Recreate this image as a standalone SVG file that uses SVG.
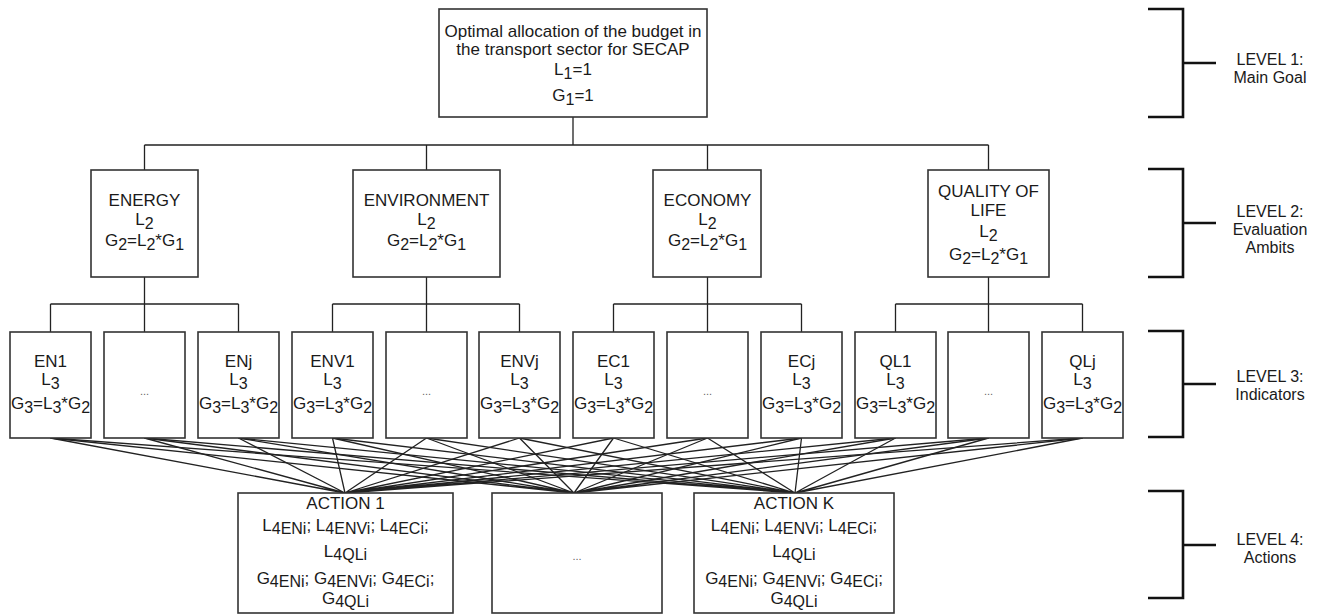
<svg xmlns="http://www.w3.org/2000/svg" width="1325" height="615" viewBox="0 0 1325 615">
<style>
.box{fill:#fff;stroke:#333;stroke-width:1.6}
.ln{stroke:#222;stroke-width:1.3;fill:none}
.br{stroke:#111;stroke-width:2.6;fill:none}
text{font-family:"Liberation Sans",Arial,sans-serif;font-size:17px;fill:#1a1a1a;text-anchor:middle}
.s{font-size:16px}
.dots{font-size:11px;fill:#666}
.lv{font-size:16px}
</style>
<rect width="1325" height="615" fill="#fff"/>
<g id="connectors">
<path class="ln" d="M573 117V145M144.5 145H988.5M144.5 145V170M426.5 145V170M707.5 145V170M988.5 145V170"/>
<path class="ln" d="M144.5 277V304M50.5 304H238.5M50.5 304V332M144.5 304V332M238.5 304V332"/>
<path class="ln" d="M426.5 277V304M332.5 304H519.5M332.5 304V332M426.5 304V332M519.5 304V332"/>
<path class="ln" d="M707.5 277V304M613.5 304H801.5M613.5 304V332M707.5 304V332M801.5 304V332"/>
<path class="ln" d="M988.5 277V304M895.5 304H1082.5M895.5 304V332M988.5 304V332M1082.5 304V332"/>
<path class="ln" d="M50.5 438L345 493M144.5 438L345 493M238.5 438L345 493M332.5 438L345 493M426.5 438L345 493M519.5 438L345 493M613.5 438L345 493M707.5 438L345 493M801.5 438L345 493M895.5 438L345 493M988.5 438L345 493M1082.5 438L345 493"/>
<path class="ln" d="M50.5 438L574 493M144.5 438L574 493M238.5 438L574 493M332.5 438L574 493M426.5 438L574 493M519.5 438L574 493M613.5 438L574 493M707.5 438L574 493M801.5 438L574 493M895.5 438L574 493M988.5 438L574 493M1082.5 438L574 493"/>
<path class="ln" d="M50.5 438L795 493M144.5 438L795 493M238.5 438L795 493M332.5 438L795 493M426.5 438L795 493M519.5 438L795 493M613.5 438L795 493M707.5 438L795 493M801.5 438L795 493M895.5 438L795 493M988.5 438L795 493M1082.5 438L795 493"/>
</g>
<g id="goal">
<rect class="box" x="439" y="9" width="268" height="108"/>
<text x="573" y="37">Optimal allocation of the budget in</text>
<text x="573" y="55">the transport sector for SECAP</text>
<text x="573" y="75">L<tspan class="s" dy="4">1</tspan><tspan dy="-4">=1</tspan></text>
<text x="573" y="101">G<tspan class="s" dy="4">1</tspan><tspan dy="-4">=1</tspan></text>
</g>
<g id="energy">
<rect class="box" x="91" y="170" width="107" height="107"/>
<text x="144.5" y="206">ENERGY</text>
<text x="144.5" y="225">L<tspan class="s" dy="4">2</tspan></text>
<text x="144.5" y="246">G<tspan class="s" dy="4">2</tspan><tspan dy="-4">=L</tspan><tspan class="s" dy="4">2</tspan><tspan dy="-4">*G</tspan><tspan class="s" dy="4">1</tspan></text>
</g>
<g id="environment">
<rect class="box" x="353" y="170" width="147" height="107"/>
<text x="426.5" y="206">ENVIRONMENT</text>
<text x="426.5" y="225">L<tspan class="s" dy="4">2</tspan></text>
<text x="426.5" y="246">G<tspan class="s" dy="4">2</tspan><tspan dy="-4">=L</tspan><tspan class="s" dy="4">2</tspan><tspan dy="-4">*G</tspan><tspan class="s" dy="4">1</tspan></text>
</g>
<g id="economy">
<rect class="box" x="653" y="170" width="108" height="107"/>
<text x="707.5" y="206">ECONOMY</text>
<text x="707.5" y="225">L<tspan class="s" dy="4">2</tspan></text>
<text x="707.5" y="246">G<tspan class="s" dy="4">2</tspan><tspan dy="-4">=L</tspan><tspan class="s" dy="4">2</tspan><tspan dy="-4">*G</tspan><tspan class="s" dy="4">1</tspan></text>
</g>
<g id="quality">
<rect class="box" x="928" y="170" width="121" height="107"/>
<text x="988.5" y="197">QUALITY OF</text>
<text x="988.5" y="216">LIFE</text>
<text x="988.5" y="237">L<tspan class="s" dy="4">2</tspan></text>
<text x="988.5" y="260">G<tspan class="s" dy="4">2</tspan><tspan dy="-4">=L</tspan><tspan class="s" dy="4">2</tspan><tspan dy="-4">*G</tspan><tspan class="s" dy="4">1</tspan></text>
</g>
<g id="en1"><rect class="box" x="10" y="332" width="81" height="106"/><text x="50.5" y="367">EN1</text><text x="50.5" y="385">L<tspan class="s" dy="4">3</tspan></text><text x="50.5" y="409">G<tspan class="s" dy="4">3</tspan><tspan dy="-4">=L</tspan><tspan class="s" dy="4">3</tspan><tspan dy="-4">*G</tspan><tspan class="s" dy="4">2</tspan></text></g>
<g id="en-dots"><rect class="box" x="104" y="332" width="81" height="106"/><text class="dots" x="144.5" y="395">...</text></g>
<g id="enj"><rect class="box" x="198" y="332" width="81" height="106"/><text x="238.5" y="367">ENj</text><text x="238.5" y="385">L<tspan class="s" dy="4">3</tspan></text><text x="238.5" y="409">G<tspan class="s" dy="4">3</tspan><tspan dy="-4">=L</tspan><tspan class="s" dy="4">3</tspan><tspan dy="-4">*G</tspan><tspan class="s" dy="4">2</tspan></text></g>
<g id="env1"><rect class="box" x="292" y="332" width="81" height="106"/><text x="332.5" y="367">ENV1</text><text x="332.5" y="385">L<tspan class="s" dy="4">3</tspan></text><text x="332.5" y="409">G<tspan class="s" dy="4">3</tspan><tspan dy="-4">=L</tspan><tspan class="s" dy="4">3</tspan><tspan dy="-4">*G</tspan><tspan class="s" dy="4">2</tspan></text></g>
<g id="env-dots"><rect class="box" x="386" y="332" width="81" height="106"/><text class="dots" x="426.5" y="395">...</text></g>
<g id="envj"><rect class="box" x="479" y="332" width="81" height="106"/><text x="519.5" y="367">ENVj</text><text x="519.5" y="385">L<tspan class="s" dy="4">3</tspan></text><text x="519.5" y="409">G<tspan class="s" dy="4">3</tspan><tspan dy="-4">=L</tspan><tspan class="s" dy="4">3</tspan><tspan dy="-4">*G</tspan><tspan class="s" dy="4">2</tspan></text></g>
<g id="ec1"><rect class="box" x="573" y="332" width="81" height="106"/><text x="613.5" y="367">EC1</text><text x="613.5" y="385">L<tspan class="s" dy="4">3</tspan></text><text x="613.5" y="409">G<tspan class="s" dy="4">3</tspan><tspan dy="-4">=L</tspan><tspan class="s" dy="4">3</tspan><tspan dy="-4">*G</tspan><tspan class="s" dy="4">2</tspan></text></g>
<g id="ec-dots"><rect class="box" x="667" y="332" width="81" height="106"/><text class="dots" x="707.5" y="395">...</text></g>
<g id="ecj"><rect class="box" x="761" y="332" width="81" height="106"/><text x="801.5" y="367">ECj</text><text x="801.5" y="385">L<tspan class="s" dy="4">3</tspan></text><text x="801.5" y="409">G<tspan class="s" dy="4">3</tspan><tspan dy="-4">=L</tspan><tspan class="s" dy="4">3</tspan><tspan dy="-4">*G</tspan><tspan class="s" dy="4">2</tspan></text></g>
<g id="ql1"><rect class="box" x="855" y="332" width="81" height="106"/><text x="895.5" y="367">QL1</text><text x="895.5" y="385">L<tspan class="s" dy="4">3</tspan></text><text x="895.5" y="409">G<tspan class="s" dy="4">3</tspan><tspan dy="-4">=L</tspan><tspan class="s" dy="4">3</tspan><tspan dy="-4">*G</tspan><tspan class="s" dy="4">2</tspan></text></g>
<g id="ql-dots"><rect class="box" x="948" y="332" width="81" height="106"/><text class="dots" x="988.5" y="395">...</text></g>
<g id="qlj"><rect class="box" x="1042" y="332" width="81" height="106"/><text x="1082.5" y="367">QLj</text><text x="1082.5" y="385">L<tspan class="s" dy="4">3</tspan></text><text x="1082.5" y="409">G<tspan class="s" dy="4">3</tspan><tspan dy="-4">=L</tspan><tspan class="s" dy="4">3</tspan><tspan dy="-4">*G</tspan><tspan class="s" dy="4">2</tspan></text></g>
<g id="action1">
<rect class="box" x="238" y="493" width="215" height="120"/>
<text x="345.5" y="509">ACTION 1</text>
<text x="345.5" y="531">L<tspan class="s" dy="3">4ENi</tspan><tspan dy="-3">; L</tspan><tspan class="s" dy="3">4ENVi</tspan><tspan dy="-3">; L</tspan><tspan class="s" dy="3">4ECi</tspan><tspan dy="-3">;</tspan></text>
<text x="345.5" y="557">L<tspan class="s" dy="3">4QLi</tspan></text>
<text x="345.5" y="584">G<tspan class="s" dy="3">4ENi</tspan><tspan dy="-3">; G</tspan><tspan class="s" dy="3">4ENVi</tspan><tspan dy="-3">; G</tspan><tspan class="s" dy="3">4ECi</tspan><tspan dy="-3">;</tspan></text>
<text x="345.5" y="604">G<tspan class="s" dy="3">4QLi</tspan></text>
</g>
<g id="action-dots">
<rect class="box" x="492" y="493" width="170" height="120"/>
<text class="dots" x="577" y="560">...</text>
</g>
<g id="actionk">
<rect class="box" x="694" y="493" width="200" height="120"/>
<text x="794" y="509">ACTION K</text>
<text x="794" y="531">L<tspan class="s" dy="3">4ENi</tspan><tspan dy="-3">; L</tspan><tspan class="s" dy="3">4ENVi</tspan><tspan dy="-3">; L</tspan><tspan class="s" dy="3">4ECi</tspan><tspan dy="-3">;</tspan></text>
<text x="794" y="557">L<tspan class="s" dy="3">4QLi</tspan></text>
<text x="794" y="584">G<tspan class="s" dy="3">4ENi</tspan><tspan dy="-3">; G</tspan><tspan class="s" dy="3">4ENVi</tspan><tspan dy="-3">; G</tspan><tspan class="s" dy="3">4ECi</tspan><tspan dy="-3">;</tspan></text>
<text x="794" y="604">G<tspan class="s" dy="3">4QLi</tspan></text>
</g>
<g id="level1">
<path class="br" d="M1148 9H1183V117H1148M1183 63H1216"/>
<text class="lv" x="1270" y="65">LEVEL 1:</text>
<text class="lv" x="1270" y="83">Main Goal</text>
</g>
<g id="level2">
<path class="br" d="M1148 169H1183V277H1148M1183 223H1216"/>
<text class="lv" x="1270" y="217">LEVEL 2:</text>
<text class="lv" x="1270" y="235">Evaluation</text>
<text class="lv" x="1270" y="253">Ambits</text>
</g>
<g id="level3">
<path class="br" d="M1148 331H1183V437H1148M1183 384H1216"/>
<text class="lv" x="1270" y="382">LEVEL 3:</text>
<text class="lv" x="1270" y="400">Indicators</text>
</g>
<g id="level4">
<path class="br" d="M1148 491H1183V598H1148M1183 545H1216"/>
<text class="lv" x="1270" y="545">LEVEL 4:</text>
<text class="lv" x="1270" y="563">Actions</text>
</g>
</svg>
